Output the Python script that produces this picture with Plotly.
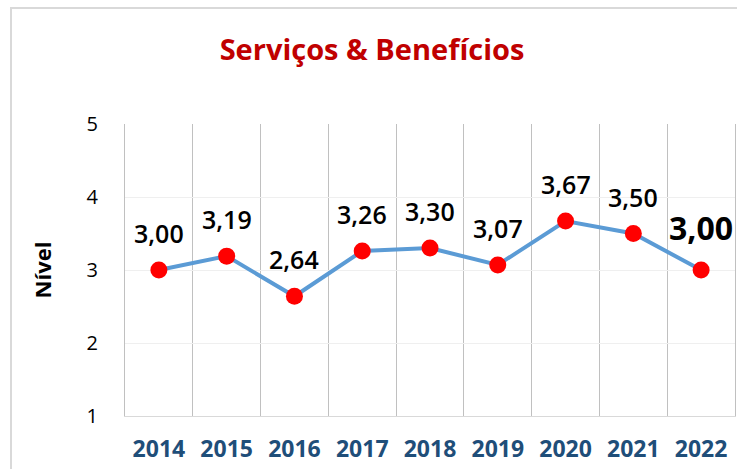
import plotly.graph_objects as go

years = ["2014", "2015", "2016", "2017", "2018", "2019", "2020", "2021", "2022"]
values = [3.00, 3.19, 2.64, 3.26, 3.30, 3.07, 3.67, 3.50, 3.00]
labels = [f"{v:.2f}".replace(".", ",") for v in values]
y_ticks = [1, 2, 3, 4, 5]

FONT = "Open Sans"

W, H = 737, 469
L, R, T, B = 125, 2, 124, 53
pw, ph = W - L - R, H - T - B

def px_to_paper_x(px):
    return (px - L) / pw

def px_to_paper_y(py):
    return (H - B - py) / ph

fig = go.Figure()
fig.add_trace(go.Scatter(
    x=years, y=values, mode="lines+markers",
    line=dict(color="#5B9BD5", width=4),
    marker=dict(color="#FF0000", size=17),
    hoverinfo="skip", showlegend=False,
))

annots = []
for i, (yr, v, t) in enumerate(zip(years, values, labels)):
    last = i == len(years) - 1
    annots.append(dict(
        x=i, y=v, text=t,
        showarrow=False, xref="x", yref="y",
        xanchor="center", yanchor="middle",
        yshift=43 if last else 37,
        font=dict(family=FONT, size=32 if last else 25, color="black",
                  weight=700 if last else 600),
    ))

fig.update_layout(
    width=W, height=H,
    margin=dict(l=L, r=R, t=T, b=B),
    paper_bgcolor="white", plot_bgcolor="white",
    annotations=annots,
    shapes=[dict(type="rect", xref="paper", yref="paper",
                 x0=px_to_paper_x(11), x1=px_to_paper_x(760),
                 y0=px_to_paper_y(490), y1=px_to_paper_y(8),
                 line=dict(color="#D9D9D9", width=2), layer="below")],
    title=dict(text="<b>Serviços & Benefícios</b>", xref="container", yref="container",
               x=372 / W, y=1 - 50 / H, xanchor="center", yanchor="middle",
               font=dict(family=FONT, size=29, color="#C00000")),
    xaxis=dict(type="category", tickson="boundaries", showgrid=True,
               gridcolor="#C0C0C0", gridwidth=1, ticks="",
               showline=True, linecolor="#D9D9D9", linewidth=1,
               tickfont=dict(family=FONT, size=23, color="#1F4E79", weight="bold"),
               ticklabelstandoff=12, range=[-0.5, 8.5]),
    yaxis=dict(range=[1, 5], tickvals=y_ticks, showgrid=True, gridcolor="#EFEFEF",
               zeroline=False, showline=True, mirror=True, linecolor="#C0C0C0",
               linewidth=1, ticks="", ticklabelstandoff=22,
               tickfont=dict(family=FONT, size=20, color="#000000"),
               title=dict(text="<b>Nível</b>", standoff=28,
                          font=dict(family=FONT, size=22, color="#000000"))),
)

fig.write_html("out.html", config={"displayModeBar": False},
               post_script="document.body.style.margin='0';document.body.style.overflow='hidden';")
